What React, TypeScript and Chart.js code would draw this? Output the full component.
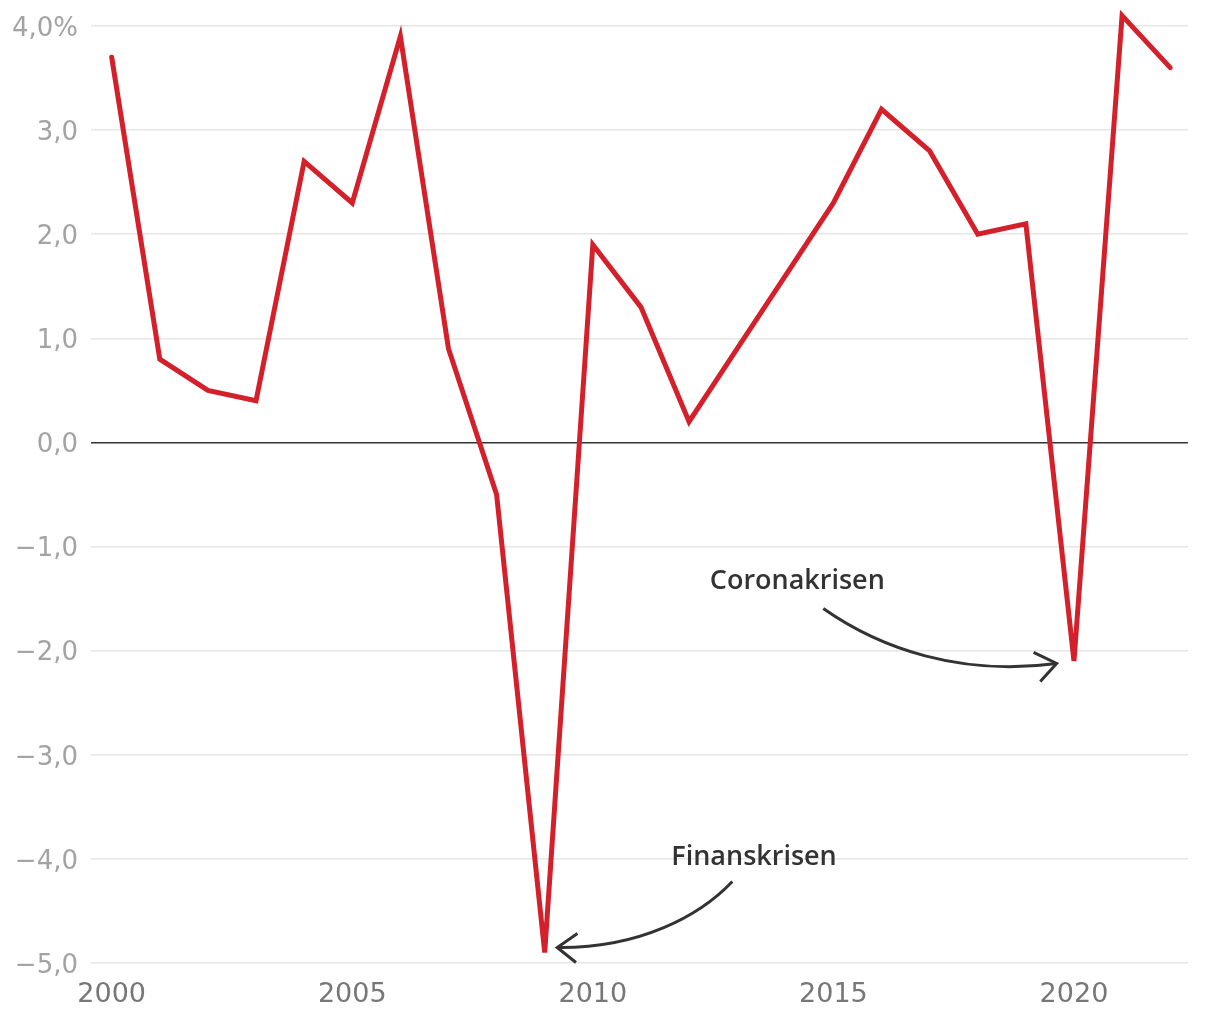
import React, { useEffect, useRef } from "react";
import { Chart, registerables } from "chart.js";

Chart.register(...registerables);

const years: number[] = [
  2000, 2001, 2002, 2003, 2004, 2005, 2006, 2007, 2008, 2009, 2010, 2011,
  2012, 2013, 2014, 2015, 2016, 2017, 2018, 2019, 2020, 2021, 2022,
];
const growth: number[] = [
  3.7, 0.8, 0.5, 0.4, 2.7, 2.3, 3.9, 0.9, -0.5, -4.9, 1.9, 1.3, 0.2, 0.9, 1.6,
  2.3, 3.2, 2.8, 2.0, 2.1, -2.1, 4.1, 3.6,
];
const xTickYears: number[] = [2000, 2005, 2010, 2015, 2020];
const yTicks: number[] = [-5, -4, -3, -2, -1, 0, 1, 2, 3, 4];

// Annotations in data coordinates: [year, value]
const coronaLabel = { text: "Coronakrisen", at: [2014.25, -1.335] };
const coronaArrow: number[][] = [
  [2014.79, -1.595],
  [2015.97, -1.979],
  [2017.64, -2.248],
  [2019.64, -2.123],
];
const coronaHead: number[][] = [
  [2019.16, -2.017],
  [2019.64, -2.123],
  [2019.3, -2.296],
];
const finansLabel = { text: "Finanskrisen", at: [2013.35, -3.987] };
const finansArrow: number[][] = [
  [2012.9, -4.217],
  [2012.23, -4.544],
  [2010.98, -4.861],
  [2009.26, -4.851],
];
const finansHead: number[][] = [
  [2009.68, -4.717],
  [2009.26, -4.851],
  [2009.65, -4.995],
];

const fmt = (v: number) => {
  const s = Math.abs(v).toFixed(1).replace(".", ",");
  const sign = v < 0 ? "\u2212" : "";
  return sign + s + (v === 4 ? "%" : "");
};

const annotationPlugin = {
  id: "crisisAnnotations",
  afterDatasetsDraw(chart: any) {
    const { ctx, scales } = chart;
    const xs = scales.x;
    const ys = scales.y;
    const P = (p: number[]) => [xs.getPixelForValue(p[0]), ys.getPixelForValue(p[1])];
    ctx.save();
    ctx.fillStyle = "#333333";
    ctx.strokeStyle = "#333333";
    ctx.font = "600 27px 'Open Sans'";
    ctx.textAlign = "center";
    ctx.textBaseline = "middle";
    for (const l of [coronaLabel, finansLabel]) {
      const [x, y] = P(l.at);
      ctx.fillText(l.text, x, y);
    }
    ctx.lineWidth = 3;
    ctx.lineCap = "butt";
    ctx.lineJoin = "miter";
    for (const arr of [coronaArrow, finansArrow]) {
      const [a, b, c, d] = arr.map(P);
      ctx.beginPath();
      ctx.moveTo(a[0], a[1]);
      ctx.bezierCurveTo(b[0], b[1], c[0], c[1], d[0], d[1]);
      ctx.stroke();
    }
    for (const head of [coronaHead, finansHead]) {
      const pts = head.map(P);
      ctx.beginPath();
      ctx.moveTo(pts[0][0], pts[0][1]);
      ctx.lineTo(pts[1][0], pts[1][1]);
      ctx.lineTo(pts[2][0], pts[2][1]);
      ctx.stroke();
    }
    ctx.restore();
  },
};

export default function App() {
  const ref = useRef<HTMLCanvasElement | null>(null);
  useEffect(() => {
    if (!ref.current) return;
    const chart = new Chart(ref.current, {
      type: "line",
      data: {
        datasets: [
          {
            data: years.map((y, i) => ({ x: y, y: growth[i] })),
            borderColor: "#d3202a",
            borderWidth: 5,
            pointRadius: 0,
            tension: 0,
            borderCapStyle: "round",
            borderJoinStyle: "miter",
            clip: false as any,
          },
        ],
      },
      options: {
        animation: false,
        responsive: false,
        layout: { padding: { top: 18, right: 24, left: 0, bottom: 0 } },
        plugins: { legend: { display: false }, tooltip: { enabled: false } },
        scales: {
          x: {
            type: "linear",
            min: 1999.57,
            max: 2022.37,
            afterBuildTicks: (s: any) => {
              s.ticks = xTickYears.map((v) => ({ value: v }));
            },
            afterFit: (s: any) => {
              s.height = 49;
              s.paddingLeft = 0;
              s.paddingRight = 0;
            },
            grid: { display: false },
            border: { display: false },
            ticks: {
              callback: (v: any) => String(v),
              color: "#777777",
              font: { family: "'DejaVu Sans'", size: 27 },
              padding: 8,
              maxRotation: 0,
            },
          },
          y: {
            type: "linear",
            min: -5,
            max: 4,
            afterBuildTicks: (s: any) => {
              s.ticks = yTicks.map((v) => ({ value: v }));
            },
            afterFit: (s: any) => {
              s.width = 83;
              s.paddingTop = 0;
              s.paddingBottom = 0;
            },
            border: { display: false },
            grid: {
              drawTicks: false,
              tickLength: 0,
              lineWidth: 1.5,
              color: (c: any) => (c.tick && c.tick.value === 0 ? "#333333" : "#e6e6e6"),
            },
            ticks: {
              callback: (v: any) => fmt(Number(v)),
              color: "#a3a3a3",
              font: { family: "'DejaVu Sans'", size: 26 },
              padding: 13,
              labelOffset: 3,
            },
          },
        },
      },
      plugins: [annotationPlugin],
    });
    return () => chart.destroy();
  }, []);
  return (
    <div style={{ width: 1204, height: 1004 }}>
      <canvas ref={ref} width={1204} height={1004} />
    </div>
  );
}
